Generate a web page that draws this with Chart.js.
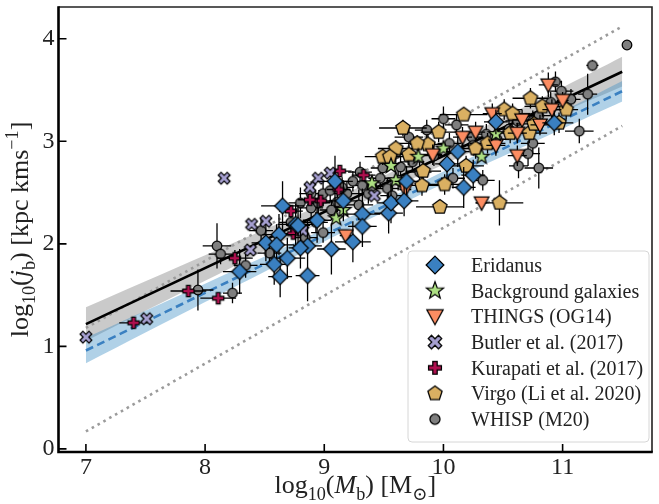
<!DOCTYPE html>
<html>
<head>
<meta charset="utf-8">
<script src="https://cdn.jsdelivr.net/npm/chart.js@4.4.1/dist/chart.umd.min.js"></script>
<style>
  html, body { margin: 0; padding: 0; background: #fff; }
  #wrap { width: 659px; height: 504px; }
</style>
</head>
<body>
<div id="wrap"><canvas id="c" width="659" height="504"></canvas></div>
<script>
// ---------------- data: [log10 Mb, log10 jb, x error, y error] ----------------
const ERIDANUS = [
  [8.65,2.37,0.18,0.24],[8.76,2.19,0.15,0.20],[8.94,2.23,0.12,0.22],[8.62,2.09,0.14,0.20],
  [8.51,2.01,0.12,0.18],[8.60,1.99,0.15,0.20],[8.69,1.86,0.15,0.20],[8.58,1.80,0.12,0.20],
  [8.29,1.73,0.14,0.22],[8.63,1.68,0.10,0.20],[8.86,1.69,0.10,0.25],[8.86,1.98,0.12,0.25],
  [8.80,1.96,0.10,0.20],[9.09,2.61,0.15,0.25],[9.16,2.42,0.12,0.20],[9.32,2.29,0.15,0.25],
  [9.32,2.17,0.12,0.20],[9.24,2.02,0.15,0.20],[9.06,1.95,0.12,0.25],[8.78,2.18,0.10,0.20],
  [9.54,2.30,0.12,0.20],[9.56,2.40,0.12,0.20],[9.67,2.42,0.12,0.15],[9.69,2.61,0.10,0.15],
  [10.12,2.90,0.10,0.15],[10.03,2.78,0.10,0.15],[10.25,2.67,0.10,0.15],[10.17,2.55,0.10,0.20],
  [10.44,3.19,0.10,0.12],[10.93,3.18,0.10,0.12]
];
const BACKGROUND = [
  [9.10,2.25],[9.16,2.33],[9.40,2.59],[9.56,2.76],[9.60,2.62],
  [9.79,2.85],[10.00,2.93],[10.32,2.85],[10.44,3.07]
];
const THINGS = [
  [10.88,3.55,0.08,0.12],[11.00,3.40,0.05,0.08],[10.91,3.31,0.08,0.10],[10.81,3.16,0.08,0.10],
  [10.66,3.21,0.08,0.10],[10.62,3.08,0.08,0.10],[10.41,3.27,0.08,0.10],[10.27,3.09,0.08,0.10],
  [10.16,3.04,0.08,0.10],[10.44,2.96,0.08,0.10],[9.91,2.87,0.08,0.10],[10.62,2.86,0.08,0.10],
  [10.32,2.40,0.05,0.05],[9.18,2.08,0.05,0.05],[9.68,2.53,0.05,0.05]
];
const BUTLER = [
  [7.00,1.09],[7.51,1.27],[8.16,2.64],[8.38,1.94],[8.39,2.19],[8.51,2.22],
  [8.88,2.55],[8.95,2.64],[9.05,2.69],[9.42,2.47],[8.82,2.13]
];
const KURAPATI = [
  [7.40,1.23,0.12,0.05],[7.86,1.54,0.15,0.05],[8.11,1.47,0.15,0.05],[8.25,1.86,0.15,0.08],
  [8.72,2.32,0.10,0.05],[8.74,2.10,0.10,0.05],[8.88,2.43,0.10,0.05],[8.97,2.42,0.10,0.05],
  [9.13,2.71,0.10,0.05],[9.33,2.67,0.10,0.05],[9.12,2.53,0.10,0.05]
];
const VIRGO = [
  [9.66,3.13,0.20,0.08],[10.17,3.26,0.20,0.05],[9.60,2.93,0.15,0.08],[9.49,2.85,0.15,0.08],
  [9.55,2.85,0.15,0.05],[9.71,2.87,0.15,0.10],[9.87,2.97,0.15,0.10],[9.96,3.09,0.15,0.10],
  [10.27,2.93,0.15,0.10],[10.19,2.76,0.15,0.10],[9.83,2.71,0.15,0.10],[10.01,2.58,0.15,0.10],
  [9.82,2.57,0.15,0.10],[9.97,2.36,0.20,0.05],[10.47,2.40,0.20,0.22],[10.73,3.42,0.15,0.10],
  [10.83,3.34,0.15,0.10],[11.03,3.31,0.10,0.10],[10.72,3.08,0.15,0.10],[10.56,3.08,0.15,0.10],
  [10.51,3.31,0.15,0.10],[10.58,3.27,0.15,0.10],[10.37,2.98,0.15,0.10],[10.76,3.17,0.15,0.10],
  [10.97,3.18,0.12,0.10],[9.78,2.98,0.15,0.08]
];
const WHISP = [
  [8.10,1.98,0.12,0.22],[8.13,1.90,0.10,0.10],[7.94,1.55,0.13,0.20],[8.23,1.52,0.08,0.10],
  [8.34,1.79,0.10,0.12],[8.54,1.91,0.10,0.12],[8.47,2.13,0.10,0.12],[8.80,2.40,0.10,0.15],
  [8.89,2.49,0.10,0.12],[8.99,2.49,0.10,0.12],[9.19,2.49,0.10,0.12],[9.24,2.61,0.10,0.10],
  [9.32,2.57,0.10,0.10],[9.29,2.38,0.12,0.15],[9.37,2.49,0.10,0.10],[9.49,2.74,0.10,0.10],
  [9.64,2.75,0.10,0.10],[9.74,2.80,0.10,0.10],[9.53,2.54,0.10,0.10],[8.89,2.35,0.10,0.12],
  [8.99,2.11,0.10,0.10],[9.06,2.33,0.10,0.10],[9.47,2.64,0.10,0.10],[9.71,3.04,0.12,0.08],
  [9.86,3.11,0.10,0.10],[10.00,3.22,0.10,0.12],[10.11,3.16,0.10,0.10],[10.24,3.04,0.10,0.10],
  [10.25,2.96,0.10,0.10],[10.33,2.62,0.10,0.10],[10.08,2.64,0.10,0.10],[10.36,3.07,0.10,0.10],
  [10.63,2.76,0.08,0.12],[10.80,2.74,0.12,0.20],[10.71,2.88,0.10,0.12],[10.75,2.98,0.10,0.10],
  [10.75,3.20,0.10,0.10],[10.80,3.25,0.10,0.10],[10.99,3.49,0.10,0.10],[10.94,3.58,0.05,0.10],
  [11.07,3.41,0.08,0.10],[11.14,3.10,0.12,0.12],[11.21,3.46,0.08,0.20],[11.25,3.74,0.05,0.05],
  [11.54,3.94,0,0],[8.72,2.21,0.10,0.12],[9.11,2.41,0.10,0.10],[8.93,2.21,0.10,0.10],
  [8.84,2.06,0.10,0.10],[9.57,2.47,0.10,0.10],[9.40,2.56,0.10,0.10],[9.62,2.62,0.10,0.10],
  [9.80,2.70,0.10,0.10],[9.92,2.86,0.10,0.10],[10.05,2.98,0.10,0.10],[10.45,3.02,0.10,0.10],
  [10.55,3.12,0.10,0.10],[10.62,3.20,0.10,0.10],[9.05,2.52,0.10,0.10],[9.15,2.55,0.10,0.10],
  [8.95,2.40,0.10,0.10],[9.30,2.70,0.10,0.10],[9.60,2.88,0.10,0.10],[10.90,3.38,0.10,0.10]
];

// fitted relations and their uncertainty bands
const FIT_X        = [7, 11.5];
const FIT_ALL      = [1.217, 3.679];
const FIT_ERIDANUS = [0.960, 3.489];
const BAND_X       = [7, 8, 9, 10, 11, 11.5];
const BAND_ALL_HI  = [1.382, 1.889, 2.396, 2.943, 3.525, 3.824];
const BAND_ALL_LO  = [1.052, 1.639, 2.226, 2.773, 3.285, 3.534];
const BAND_ERI_HI  = [1.085, 1.612, 2.144, 2.706, 3.293, 3.589];
const BAND_ERI_LO  = [0.835, 1.432, 2.024, 2.586, 3.123, 3.389];
const SCATTER_X    = [7, 11.5];
const SCATTER_HI   = [1.18, 4.12];
const SCATTER_LO   = [0.17, 3.15];

const X_TICKS = [7, 8, 9, 10, 11];
const Y_TICKS = [0, 1, 2, 3, 4];

const LABELS = ['Eridanus', 'Background galaxies', 'THINGS (OG14)', 'Butler et al. (2017)',
                'Kurapati et al. (2017)', 'Virgo (Li et al. 2020)', 'WHISP (M20)'];

const FONT = '"Liberation Serif", "DejaVu Serif", serif';

// ---------------- marker glyphs ----------------
function makeMarker(kind, fill, scale) {
  const S = 30;
  const c = document.createElement('canvas');
  c.width = S; c.height = S;
  const g = c.getContext('2d');
  g.translate(S / 2, S / 2);
  g.scale(scale, scale);
  g.fillStyle = fill;
  g.strokeStyle = '#000';
  g.lineWidth = 1.25 / scale;
  g.lineJoin = 'miter';
  g.beginPath();
  const poly = pts => { pts.forEach((p, i) => i ? g.lineTo(p[0], p[1]) : g.moveTo(p[0], p[1])); g.closePath(); };
  const cross = (L, w, rot) => {
    const base = [[-w,-L],[w,-L],[w,-w],[L,-w],[L,w],[w,w],[w,L],[-w,L],[-w,w],[-L,w],[-L,-w],[-w,-w]];
    const cs = Math.cos(rot), sn = Math.sin(rot);
    poly(base.map(([x, y]) => [x * cs - y * sn, x * sn + y * cs]));
  };
  if (kind === 'diamond') {
    const r = 7.9; poly([[0,-r],[r,0],[0,r],[-r,0]]);
  } else if (kind === 'star') {
    const R = 8.0, r = 3.3, pts = [];
    for (let i = 0; i < 10; i++) {
      const a = -Math.PI / 2 + i * Math.PI / 5, rr = i % 2 ? r : R;
      pts.push([rr * Math.cos(a), rr * Math.sin(a)]);
    }
    poly(pts);
  } else if (kind === 'tridown') {
    poly([[-7.3,-6],[7.3,-6],[0,7.4]]);
  } else if (kind === 'xfill') {
    cross(6.3, 2.0, Math.PI / 4);
  } else if (kind === 'plus') {
    cross(5.6, 1.9, 0);
  } else if (kind === 'pentagon') {
    const R = 7.5, pts = [];
    for (let i = 0; i < 5; i++) {
      const a = -Math.PI / 2 + i * 2 * Math.PI / 5;
      pts.push([R * Math.cos(a), R * Math.sin(a)]);
    }
    poly(pts);
  } else {
    g.arc(0, 0, 4.8, 0, Math.PI * 2);
  }
  g.fill();
  g.stroke();
  return c;
}

const STYLE = [
  { kind: 'diamond',  color: '#3a80c1', leg: 1.12 },
  { kind: 'star',     color: '#addf83', leg: 1.12 },
  { kind: 'tridown',  color: '#fc8d62', leg: 1.12 },
  { kind: 'xfill',    color: '#a59fd0', leg: 1.15 },
  { kind: 'plus',     color: '#b0104f', leg: 1.15 },
  { kind: 'pentagon', color: '#dab062', leg: 1.0 },
  { kind: 'circle',   color: '#7f7f7f', leg: 1.05 }
];
const SERIES = [ERIDANUS, BACKGROUND, THINGS, BUTLER, KURAPATI, VIRGO, WHISP];

const pointDatasets = SERIES.map((rows, i) => ({
  type: 'scatter',
  label: LABELS[i],
  data: rows.map(r => ({ x: r[0], y: r[1] })),
  errors: rows[0].length > 2 ? rows.map(r => [r[2], r[3]]) : null,
  pointStyle: makeMarker(STYLE[i].kind, STYLE[i].color, 1),
  legendMarker: makeMarker(STYLE[i].kind, STYLE[i].color, STYLE[i].leg),
  pointRadius: 6,
  order: i + 1
}));

const pts = (xs, ys) => xs.map((x, i) => ({ x, y: ys[i] }));
const lineBase = { type: 'line', pointRadius: 0, fill: false, borderCapStyle: 'butt' };

const lineDatasets = [
  { ...lineBase, label: 'fit', data: pts(FIT_X, FIT_ALL), borderColor: '#000', borderWidth: 2.6, order: 20 },
  { ...lineBase, label: 'fit Eridanus', data: pts(FIT_X, FIT_ERIDANUS), borderColor: '#3a80c1',
    borderWidth: 2.6, borderDash: [8, 4.5], order: 21 },
  { ...lineBase, label: 'scatter hi', data: pts(SCATTER_X, SCATTER_HI), borderColor: '#9b9b9b',
    borderWidth: 2.6, borderDash: [2.6, 4.1], order: 22 },
  { ...lineBase, label: 'scatter lo', data: pts(SCATTER_X, SCATTER_LO), borderColor: '#9b9b9b',
    borderWidth: 2.6, borderDash: [2.6, 4.1], order: 23 },
  { ...lineBase, label: 'band eri hi', data: pts(BAND_X, BAND_ERI_HI), borderWidth: 0, tension: 0.3, order: 30 },
  { ...lineBase, label: 'band eri lo', data: pts(BAND_X, BAND_ERI_LO), borderWidth: 0, tension: 0.3,
    fill: '-1', backgroundColor: 'rgba(66,146,198,0.42)', order: 31 },
  { ...lineBase, label: 'band hi', data: pts(BAND_X, BAND_ALL_HI), borderWidth: 0, tension: 0.3, order: 32 },
  { ...lineBase, label: 'band lo', data: pts(BAND_X, BAND_ALL_LO), borderWidth: 0, tension: 0.3,
    fill: '-1', backgroundColor: 'rgba(150,150,150,0.5)', order: 33 }
];

// ---------------- plugins ----------------
const errorBars = {
  id: 'errorBars',
  beforeDatasetDraw(chart, args) {
    const ds = chart.data.datasets[args.index];
    if (!ds.errors) return;
    const xs = chart.scales.x, ys = chart.scales.y, ctx = chart.ctx, a = chart.chartArea;
    ctx.save();
    ctx.beginPath(); ctx.rect(a.left, a.top, a.right - a.left, a.bottom - a.top); ctx.clip();
    ctx.strokeStyle = '#000';
    ctx.lineWidth = 1.3;
    ctx.beginPath();
    ds.data.forEach((p, i) => {
      const [xe, ye] = ds.errors[i];
      const px = xs.getPixelForValue(p.x), py = ys.getPixelForValue(p.y);
      if (xe > 0) { ctx.moveTo(xs.getPixelForValue(p.x - xe), py); ctx.lineTo(xs.getPixelForValue(p.x + xe), py); }
      if (ye > 0) { ctx.moveTo(px, ys.getPixelForValue(p.y - ye)); ctx.lineTo(px, ys.getPixelForValue(p.y + ye)); }
    });
    ctx.stroke();
    ctx.restore();
  }
};

function richText(ctx, segs, size) {
  let w = 0;
  segs.forEach(s => {
    ctx.font = (s.it ? 'italic ' : '') + (size * (s.s || 1)) + 'px ' + FONT;
    s.w = ctx.measureText(s.t).width;
    w += s.w;
  });
  return w;
}
function drawRich(ctx, segs, cx, baseY, size) {
  const w = richText(ctx, segs, size);
  let x = cx - w / 2;
  segs.forEach(s => {
    ctx.font = (s.it ? 'italic ' : '') + (size * (s.s || 1)) + 'px ' + FONT;
    ctx.fillText(s.t, x, baseY + (s.dy || 0) * size);
    x += s.w;
  });
}

const frameAndTitles = {
  id: 'frameAndTitles',
  afterDatasetsDraw(chart) {
    const ctx = chart.ctx, a = chart.chartArea, xs = chart.scales.x, ys = chart.scales.y;
    ctx.save();
    ctx.strokeStyle = '#000';
    ctx.lineCap = 'butt';
    // inward tick marks
    ctx.lineWidth = 1.6;
    ctx.beginPath();
    X_TICKS.forEach(v => { const p = xs.getPixelForValue(v); ctx.moveTo(p, a.bottom); ctx.lineTo(p, a.bottom - 8); });
    Y_TICKS.forEach(v => { const p = ys.getPixelForValue(v); ctx.moveTo(a.left, p); ctx.lineTo(a.left + 8, p); });
    ctx.stroke();
    // spines
    ctx.lineWidth = 1.6;
    ctx.strokeStyle = '#222';
    ctx.beginPath();
    ctx.moveTo(a.left, a.top); ctx.lineTo(a.right, a.top); ctx.lineTo(a.right, a.bottom);
    ctx.stroke();
    ctx.lineWidth = 2.6;
    ctx.strokeStyle = '#000';
    ctx.beginPath();
    ctx.moveTo(a.left, a.top - 0.8); ctx.lineTo(a.left, a.bottom); ctx.lineTo(a.right + 0.8, a.bottom);
    ctx.stroke();
    ctx.restore();
  },
  afterDraw(chart) {
    const ctx = chart.ctx, a = chart.chartArea;
    ctx.save();
    ctx.fillStyle = '#222';
    ctx.textBaseline = 'alphabetic';
    // x axis title
    drawRich(ctx, [
      { t: 'log' }, { t: '10', s: 0.7, dy: 0.25 }, { t: '(' }, { t: 'M', it: true },
      { t: 'b', s: 0.7, dy: 0.25 }, { t: ') [M' }, { t: '\u2299', s: 0.7, dy: 0.25 }, { t: ']' }
    ], (a.left + a.right) / 2, 493, 26);
    // y axis title
    ctx.translate(28, (a.top + a.bottom) / 2);
    ctx.rotate(-Math.PI / 2);
    drawRich(ctx, [
      { t: 'log' }, { t: '10', s: 0.7, dy: 0.25 }, { t: '(' }, { t: 'j', it: true },
      { t: 'b', s: 0.7, dy: 0.25 }, { t: ') [kpc kms' }, { t: '\u22121', s: 0.7, dy: -0.38 }, { t: ']' }
    ], 0, 0, 26);
    ctx.restore();

    // legend box
    const bx = 408, by = 251, bw = 241, bh = 191, r = 4;
    ctx.save();
    ctx.beginPath();
    ctx.moveTo(bx + r, by); ctx.lineTo(bx + bw - r, by); ctx.arcTo(bx + bw, by, bx + bw, by + r, r);
    ctx.lineTo(bx + bw, by + bh - r); ctx.arcTo(bx + bw, by + bh, bx + bw - r, by + bh, r);
    ctx.lineTo(bx + r, by + bh); ctx.arcTo(bx, by + bh, bx, by + bh - r, r);
    ctx.lineTo(bx, by + r); ctx.arcTo(bx, by, bx + r, by, r);
    ctx.closePath();
    ctx.fillStyle = 'rgba(255,255,255,0.85)';
    ctx.fill();
    ctx.strokeStyle = '#d6d6d6';
    ctx.lineWidth = 1;
    ctx.stroke();
    const entries = chart.data.datasets.filter(d => d.legendMarker);
    ctx.font = '20px ' + FONT;
    ctx.fillStyle = '#222';
    ctx.textBaseline = 'alphabetic';
    entries.forEach((d, i) => {
      const cy = 265 + i * 25.7;
      const m = d.legendMarker;
      ctx.drawImage(m, 435 - m.width / 2, cy - m.height / 2);
      ctx.fillText(d.label, 471, cy + 6.8);
    });
    ctx.restore();
  }
};

// ---------------- chart ----------------
Chart.defaults.font.family = FONT;

new Chart(document.getElementById('c'), {
  type: 'scatter',
  data: { datasets: [...pointDatasets, ...lineDatasets] },
  options: {
    responsive: false,
    animation: false,
    devicePixelRatio: 1,
    layout: { padding: { left: 0, right: 2, top: 3.5, bottom: 0 } },
    plugins: { legend: { display: false }, tooltip: { enabled: false } },
    scales: {
      x: {
        type: 'linear', min: 6.77, max: 11.75,
        afterBuildTicks: s => { s.ticks = X_TICKS.map(v => ({ value: v })); },
        afterFit: s => { s.height = 52; s.paddingLeft = 0; s.paddingRight = 0; },
        grid: { display: false, drawTicks: false },
        border: { display: false },
        ticks: { font: { size: 24 }, color: '#222', padding: 1, maxRotation: 0 }
      },
      y: {
        type: 'linear', min: -0.03, max: 4.31,
        afterBuildTicks: s => { s.ticks = Y_TICKS.map(v => ({ value: v })); },
        afterFit: s => { s.width = 58.5; s.paddingTop = 0; s.paddingBottom = 0; },
        grid: { display: false, drawTicks: false },
        border: { display: false },
        ticks: { font: { size: 24 }, color: '#222', padding: 4 }
      }
    }
  },
  plugins: [errorBars, frameAndTitles]
});
</script>
</body>
</html>
